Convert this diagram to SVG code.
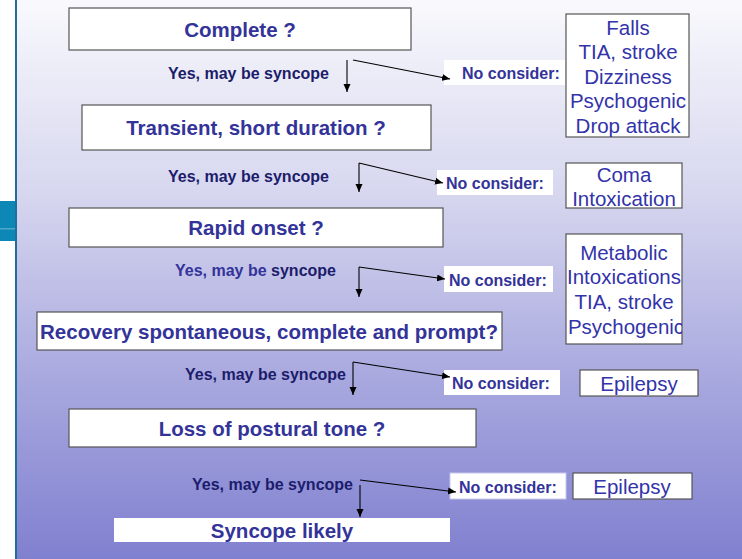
<svg xmlns="http://www.w3.org/2000/svg" width="742" height="559" viewBox="0 0 742 559">
<defs>
<linearGradient id="bg" x1="0" y1="0" x2="0" y2="1">
<stop offset="0" stop-color="#f9f9fd"/>
<stop offset="0.35" stop-color="#d6d6ef"/>
<stop offset="0.68" stop-color="#a8a8df"/>
<stop offset="1" stop-color="#8080d0"/>
</linearGradient>
<marker id="ah" viewBox="0 0 8 8" refX="8" refY="4" markerWidth="8" markerHeight="8" markerUnits="userSpaceOnUse" orient="auto">
<path d="M0,0.5 L8,4 L0,7.5 Z" fill="#000"/>
</marker>
<style>
.box{fill:#fff;stroke:#555;stroke-width:1.2}
.lbl{fill:#fff}
.q{font-family:"Liberation Sans",Arial,sans-serif;font-weight:bold;font-size:20.5px;fill:#333399;text-anchor:middle}
.yes{font-family:"Liberation Sans",Arial,sans-serif;font-weight:bold;font-size:16px;fill:#1c1c6b}
.no{font-family:"Liberation Sans",Arial,sans-serif;font-weight:bold;font-size:16px;fill:#333399}
.alt{font-family:"Liberation Sans",Arial,sans-serif;font-size:20.5px;fill:#3333aa;text-anchor:middle}
.c{stroke:#000;stroke-width:1.1;fill:none;marker-end:url(#ah)}
</style>
</defs>
<rect x="0" y="0" width="742" height="559" fill="#fff"/>
<rect x="17" y="0" width="725" height="559" fill="url(#bg)"/>
<rect x="15" y="0" width="2" height="559" fill="#1f6e9c"/>
<rect x="0" y="201" width="15" height="40" fill="#0d87b5"/>
<rect x="0" y="228" width="15" height="1.5" fill="#4fa7cc"/>

<g id="n1"><rect class="box" x="69" y="8" width="342" height="42"/><text class="q" x="240" y="37">Complete ?</text></g>
<g id="y1"><text class="yes" x="168" y="79">Yes, may be syncope</text></g>
<g id="no1"><rect class="lbl" x="444" y="60" width="121" height="25"/><text class="no" x="462" y="79">No consider:</text></g>
<g id="a1"><rect class="box" x="566" y="14" width="123" height="123"/>
<text class="alt" x="628" y="35">Falls</text>
<text class="alt" x="628" y="59">TIA, stroke</text>
<text class="alt" x="628" y="84">Dizziness</text>
<text class="alt" x="628" y="108">Psychogenic</text>
<text class="alt" x="628" y="133">Drop attack</text></g>

<g id="n2"><rect class="box" x="82" y="105" width="349" height="45"/><text class="q" x="256" y="135">Transient, short duration ?</text></g>
<g id="y2"><text class="yes" x="168" y="182">Yes, may be syncope</text></g>
<g id="no2"><rect class="lbl" x="437" y="170" width="116" height="25"/><text class="no" x="446" y="189">No consider:</text></g>
<g id="a2"><rect class="box" x="566" y="163" width="116" height="45"/>
<text class="alt" x="624" y="182">Coma</text>
<text class="alt" x="624" y="206">Intoxication</text></g>

<g id="n3"><rect class="box" x="69" y="208" width="374" height="39"/><text class="q" x="256" y="235">Rapid onset ?</text></g>
<g id="y3"><text class="yes" x="175" y="276"><tspan fill="#333399">Yes, may be </tspan>syncope</text></g>
<g id="no3"><rect class="lbl" x="444" y="266" width="109" height="26"/><text class="no" x="449" y="286">No consider:</text></g>
<g id="a3"><rect class="box" x="566" y="234" width="116" height="110"/>
<svg x="566" y="234" width="116" height="110" overflow="hidden">
<text class="alt" x="58" y="26">Metabolic</text>
<text class="alt" x="58" y="50">Intoxications</text>
<text class="alt" x="58" y="75">TIA, stroke</text>
<text class="alt" x="60" y="100">Psychogenic</text>
</svg></g>

<g id="n4"><rect class="box" x="37" y="312" width="465" height="38"/><text class="q" x="269" y="339">Recovery spontaneous, complete and prompt?</text></g>
<g id="y4"><text class="yes" x="185" y="380">Yes, may be syncope</text></g>
<g id="no4"><rect class="lbl" x="444" y="370" width="116" height="25"/><text class="no" x="452" y="389">No consider:</text></g>
<g id="a4"><rect class="box" x="580" y="370" width="118" height="26"/><text class="alt" x="639" y="391">Epilepsy</text></g>

<g id="n5"><rect class="box" x="69" y="409" width="407" height="38"/><text class="q" x="272" y="436">Loss of postural tone ?</text></g>
<g id="y5"><text class="yes" x="192" y="490">Yes, may be syncope</text></g>
<g id="no5"><rect class="lbl" x="450" y="473" width="116" height="26" stroke="#c8c8ee" stroke-width="1"/><text class="no" x="459" y="493">No consider:</text></g>
<g id="a5"><rect class="box" x="573" y="473" width="119" height="26"/><text class="alt" x="632" y="494">Epilepsy</text></g>

<g id="n6"><rect class="lbl" x="114" y="518" width="336" height="24"/><text class="q" x="282" y="538">Syncope likely</text></g>

<g id="connectors">
<line class="c" x1="347" y1="60" x2="347" y2="92"/>
<line class="c" x1="353" y1="60" x2="450" y2="79"/>
<line class="c" x1="359" y1="163" x2="359" y2="192"/>
<line class="c" x1="359" y1="163" x2="443" y2="183"/>
<line class="c" x1="359" y1="267" x2="359" y2="297"/>
<line class="c" x1="359" y1="267" x2="445" y2="279"/>
<line class="c" x1="353" y1="362" x2="353" y2="395"/>
<line class="c" x1="353" y1="362" x2="450" y2="377"/>
<line class="c" x1="360" y1="485" x2="360" y2="517"/>
<line class="c" x1="360" y1="480" x2="456" y2="492"/>
</g>
</svg>
